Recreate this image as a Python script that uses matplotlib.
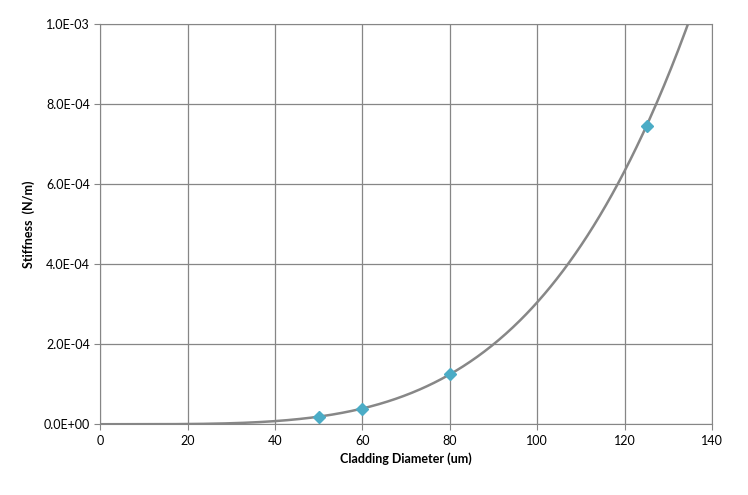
import numpy as np
import matplotlib
matplotlib.use("Agg")
import matplotlib.pyplot as plt
from matplotlib.ticker import FuncFormatter

diameter = [50, 60, 80, 125]
stiffness = [1.9e-5, 3.9e-5, 1.25e-4, 7.45e-4]
xticks = [0, 20, 40, 60, 80, 100, 120, 140]
yticks = [0, 2e-4, 4e-4, 6e-4, 8e-4, 1e-3]

plt.rcParams['font.family'] = ['Lato', 'DejaVu Sans']
fig = plt.figure(figsize=(7.48, 4.95), dpi=100)
ax = fig.add_axes([0.134, 0.143, 0.818, 0.809])

# power trendline fit (as in spreadsheet)
b, loga = np.polyfit(np.log(diameter), np.log(stiffness), 1)
xs = np.linspace(0.01, 140, 600)
ys = np.exp(loga) * xs ** b
ax.plot(xs, ys, color='#878787', lw=1.8, zorder=2)
ax.plot(diameter, stiffness, 'D', color='#4BACC6', ms=6, zorder=3)

ax.set_xlim(0, 140)
ax.set_ylim(0, 1e-3)
ax.set_xticks(xticks)
ax.set_yticks(yticks)
ax.yaxis.set_major_formatter(FuncFormatter(lambda v, p: "%.1E" % v if v != 0 else "0.0E+00"))
ax.grid(True, color='#868686', lw=0.9)
ax.set_axisbelow(True)
for s in ax.spines.values():
    s.set_color('#868686')
ax.tick_params(labelsize=9, length=4, color='#868686')
ax.set_xlabel('Cladding Diameter (um)', fontsize=9, fontweight='bold', labelpad=4)
ax.set_ylabel('Stiffness  (N/m)', fontsize=9, fontweight='bold', labelpad=6)
fig.savefig('out.png', dpi=100)
